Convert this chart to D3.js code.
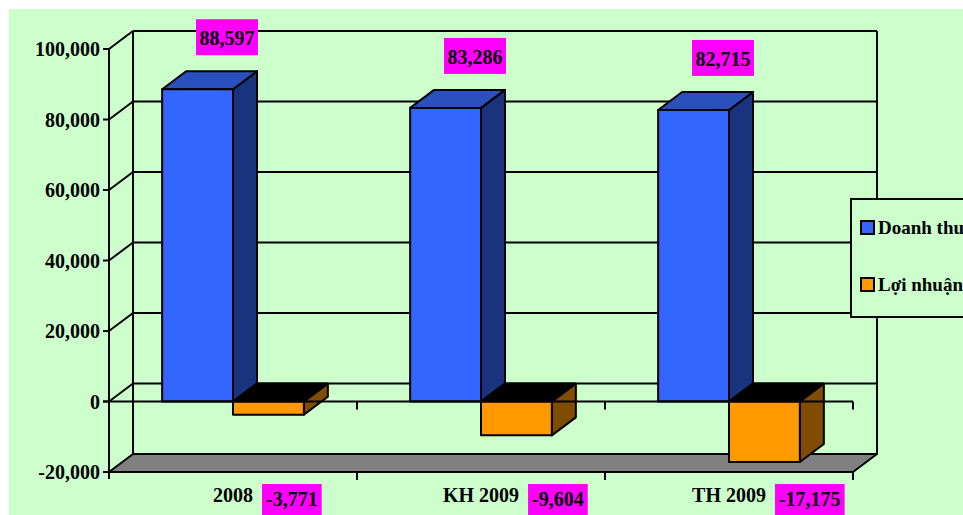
<!DOCTYPE html>
<html>
<head>
<meta charset="utf-8">
<script src="https://cdn.jsdelivr.net/npm/d3@7"></script>
<style>
  html, body { margin: 0; padding: 0; background: #fff; }
  svg { display: block; }
  text { font-family: 'Liberation Serif', 'Times New Roman', serif; font-weight: bold; fill: #000; }
</style>
</head>
<body>
<div id="chart"></div>
<script>
'use strict';
var categories = ['2008', 'KH 2009', 'TH 2009'];
var seriesNames = ['Doanh thu', 'Lợi nhuận'];
var doanhThu = [88597, 83286, 82715];
var loiNhuan = [-3771, -9604, -17175];
var yTicks = [-20000, 0, 20000, 40000, 60000, 80000, 100000];

var width = 963, height = 515;
var dx = 24, dy = -18; // depth of the 3d box
var fmt = d3.formatLocale({decimal: '.', thousands: ',', grouping: [3], currency: ['', ''], minus: '-'}).format(',');

var svg = d3.select('#chart').append('svg')
  .attr('width', width)
  .attr('height', height);

svg.append('rect')
  .attr('x', 9).attr('y', 9)
  .attr('width', width - 9).attr('height', height - 9)
  .attr('fill', '#ccffcc');

var y = d3.scaleLinear().domain([-20000, 100000]).range([472, 49]);
var x = d3.scaleBand().domain(categories).range([109, 853]);
var xs = d3.scaleBand().domain(seriesNames).range([0, x.bandwidth()])
  .paddingInner(0).paddingOuter(0.75);

var colors = {
  'Doanh thu': {front: '#3366ff', top: '#2a50be', side: '#1a337f'},
  'Lợi nhuận': {front: '#ff9900', top: '#000000', side: '#804c00'}
};

var x0 = x.range()[0], x1 = x.range()[1];
var line = function (g, ax, ay, bx, by) {
  g.append('line')
    .attr('x1', ax).attr('y1', ay).attr('x2', bx).attr('y2', by)
    .attr('stroke', '#000').attr('stroke-width', 2);
};

// walls and gridlines
var walls = svg.append('g');
yTicks.forEach(function (t) {
  if (t === yTicks[0]) { return; }
  line(walls, x0 + dx, y(t) + dy, x1 + dx, y(t) + dy);
  line(walls, x0, y(t), x0 + dx, y(t) + dy);
});
line(walls, x0 + dx, y(100000) + dy, x0 + dx, y(-20000) + dy);
line(walls, x1 + dx, y(100000) + dy, x1 + dx, y(-20000) + dy);

// floor
walls.append('polygon')
  .attr('points', [[x0, y(-20000)], [x0 + dx, y(-20000) + dy], [x1 + dx, y(-20000) + dy], [x1, y(-20000)]].join(' '))
  .attr('fill', '#808080')
  .attr('stroke', '#000').attr('stroke-width', 2).attr('stroke-linejoin', 'round');

// bars
var rows = [];
categories.forEach(function (c, i) {
  rows.push({cat: c, name: seriesNames[0], value: doanhThu[i]});
  rows.push({cat: c, name: seriesNames[1], value: loiNhuan[i]});
});

var bars = svg.selectAll('g.bar')
  .data(rows)
  .enter().append('g')
  .attr('class', 'bar');

bars.each(function (d) {
  var g = d3.select(this);
  var bx0 = x(d.cat) + xs(d.name), bx1 = bx0 + xs.bandwidth();
  var top = Math.min(y(d.value), y(0)), bottom = Math.max(y(d.value), y(0));
  var c = colors[d.name];
  g.append('polygon')
    .attr('points', [[bx1, top], [bx1 + dx, top + dy], [bx1 + dx, bottom + dy], [bx1, bottom]].join(' '))
    .attr('fill', c.side);
  g.append('polygon')
    .attr('points', [[bx0, top], [bx1, top], [bx1 + dx, top + dy], [bx0 + dx, top + dy]].join(' '))
    .attr('fill', c.top);
  g.append('rect')
    .attr('x', bx0).attr('y', top)
    .attr('width', bx1 - bx0).attr('height', bottom - top)
    .attr('fill', c.front);
  g.selectAll('polygon, rect')
    .attr('stroke', '#000').attr('stroke-width', 2).attr('stroke-linejoin', 'round');
});

// front axes
var axes = svg.append('g');
line(axes, x0, y(100000), x0, y(-20000) + 7);
line(axes, x0 - 6, y(0), x1, y(0));
yTicks.forEach(function (t) {
  line(axes, x0 - 6, y(t), x0, y(t));
});
x.domain().concat(['end']).forEach(function (c, i) {
  var px = x0 + i * x.step();
  if (i > 0) {
    line(axes, px, y(0), px, y(0) + 8);
    line(axes, px, y(-20000), px, y(-20000) + 8);
  }
});

axes.selectAll('text.ytick')
  .data(yTicks)
  .enter().append('text')
  .attr('class', 'ytick')
  .attr('x', x0 - 9)
  .attr('y', function (d) { return y(d) + 7; })
  .attr('text-anchor', 'end')
  .style('font-size', '20px')
  .text(function (d) { return fmt(d); });

// category labels and negative value labels
categories.forEach(function (c, i) {
  var cx = x(c) + x.bandwidth() / 2;
  var t = axes.append('text')
    .attr('x', cx).attr('y', 502)
    .attr('text-anchor', 'middle')
    .style('font-size', '20px')
    .text(c);
  var right = cx + t.node().getComputedTextLength() / 2;
  var lg = axes.append('g');
  var lt = lg.append('text')
    .attr('x', right + 13).attr('y', 506)
    .style('font-size', '20px')
    .text(fmt(loiNhuan[i]));
  var w = lt.node().getComputedTextLength();
  lg.insert('rect', 'text')
    .attr('x', right + 9).attr('y', 484)
    .attr('width', w + 8).attr('height', 34)
    .attr('fill', '#ff00ff');
});

// top value labels
doanhThu.forEach(function (v, i) {
  var c = categories[i];
  var cx = x(c) + x.bandwidth() / 2 - 6;
  var by = y(v) - 34;
  var lg = svg.append('g');
  lg.append('rect')
    .attr('x', cx - 31).attr('y', by - 36)
    .attr('width', 62).attr('height', 36)
    .attr('fill', '#ff00ff');
  lg.append('text')
    .attr('x', cx).attr('y', by - 10)
    .attr('text-anchor', 'middle')
    .attr('textLength', 55)
    .attr('lengthAdjust', 'spacingAndGlyphs')
    .style('font-size', '21px')
    .text(fmt(v));
});

// legend
var legend = svg.append('g').attr('transform', 'translate(851,199)');
legend.append('rect')
  .attr('width', 130).attr('height', 118)
  .attr('fill', '#ccffcc')
  .attr('stroke', '#000').attr('stroke-width', 2);
var items = legend.selectAll('g.item')
  .data(seriesNames)
  .enter().append('g')
  .attr('class', 'item')
  .attr('transform', function (d, i) { return 'translate(10,' + (22 + i * 57) + ')'; });
items.append('rect')
  .attr('width', 13).attr('height', 13)
  .attr('fill', function (d) { return colors[d].front; })
  .attr('stroke', '#000').attr('stroke-width', 2);
items.append('text')
  .attr('x', 17).attr('y', 13)
  .style('font-size', '19px')
  .text(function (d) { return d; });
</script>
</body>
</html>
